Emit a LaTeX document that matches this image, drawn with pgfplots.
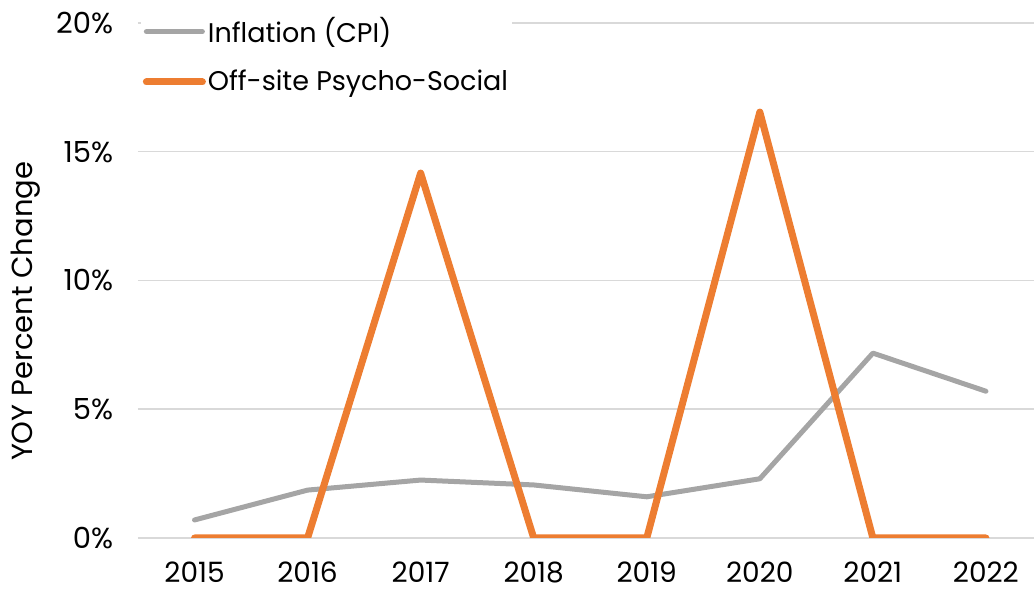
\documentclass[border=0pt]{standalone}
\usepackage{fontspec}
\setmainfont{Poppins}
\usepackage{pgfplots}
\pgfplotsset{compat=1.18}
\definecolor{cpi}{HTML}{A5A5A5}
\definecolor{psy}{HTML}{ED7D31}
\definecolor{gridc}{HTML}{D9D9D9}
\begin{document}
\fontsize{29}{34}\selectfont
\begin{tikzpicture}
\begin{axis}[
  name=ax,
  scale only axis,
  width=896pt, height=515pt,
  xmin=2014.5, xmax=2022.425,
  ymin=0, ymax=20,
  xtick={2015,...,2022},
  ytick={0,5,10,15,20},
  xticklabel style={/pgf/number format/1000 sep={}, anchor=north, yshift=-24pt, inner sep=0pt, text height=20pt, text depth=0pt, font=\fontsize{28}{32}\selectfont},
  yticklabel={\pgfmathprintnumber{\tick}\%},
  yticklabel style={xshift=-15pt},
  /pgf/number format/assume math mode=true,
  tick style={draw=none},
  axis line style={draw=none},
  ymajorgrids,
  grid style={gridc, line width=1.5pt},
  ylabel={YOY Percent Change},
  ylabel style={at={(axis description cs:-0.125,0.44)}, anchor=center, rotate=0},
  legend style={at={(axis description cs:0.003,1.02)}, anchor=north west, draw=none, fill=white,
    font=\fontsize{27}{32}\selectfont, row sep=19pt, inner xsep=2pt, inner ysep=2pt,
    nodes={inner xsep=2pt}},
  legend cell align=left,
  legend image code/.code={\draw[#1, line cap=round] (0pt,0pt) -- (56pt,0pt);},
  every axis plot/.append style={line join=round, line cap=round, mark=none},
]
\addplot[cpi, line width=5pt] coordinates {
(2015,0.70) (2016,1.86) (2017,2.25) (2018,2.06) (2019,1.60) (2020,2.30) (2021,7.18) (2022,5.70)};
\addlegendentry{Inflation (CPI)}
\addplot[psy, line width=7pt] coordinates {
(2015,0) (2016,0) (2017,14.17) (2018,0) (2019,0) (2020,16.54) (2021,0) (2022,0)};
\addlegendentry{Off-site Psycho-Social}
\end{axis}
\pgfresetboundingbox
\path[use as bounding box] ([xshift=-138pt,yshift=-53pt]ax.south west) rectangle ([yshift=23pt]ax.north east);
\end{tikzpicture}
\end{document}
